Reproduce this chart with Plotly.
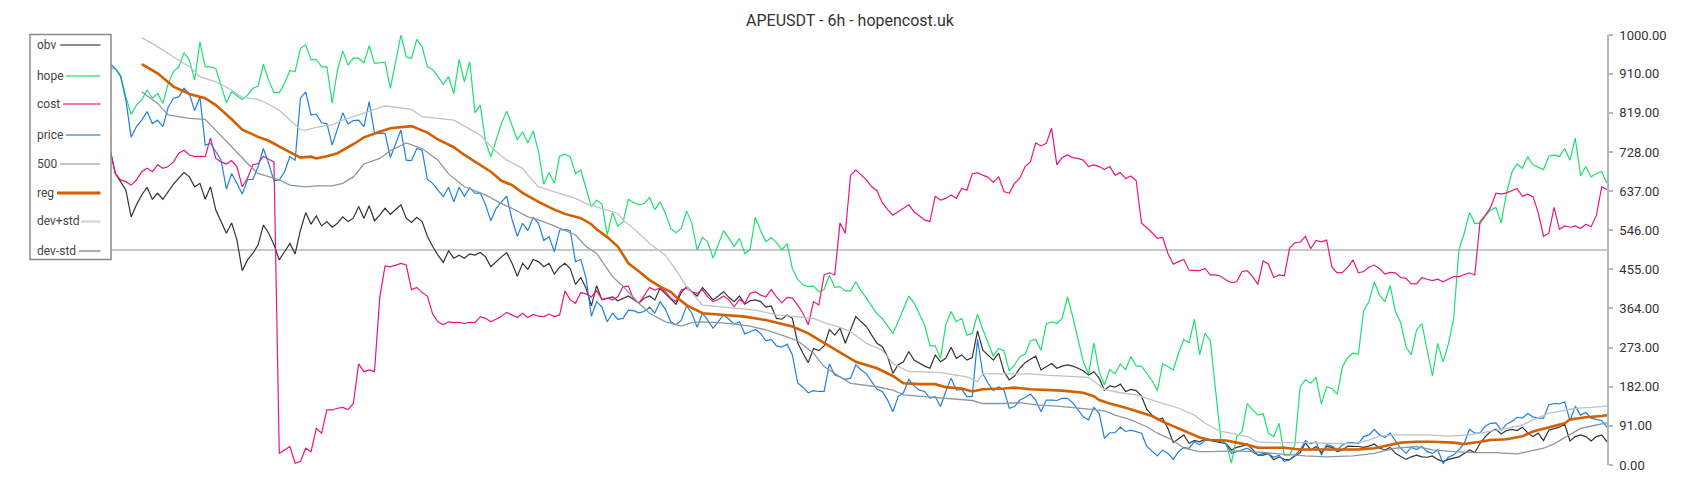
import plotly.graph_objects as go

TITLE = "APEUSDT - 6h - hopencost.uk"

obv = [736, 678, 659, 639, 577, 605, 628, 646, 618, 632, 618, 636, 653, 667, 680, 670, 647, 655, 618, 647,
       593, 566, 539, 563, 523, 452, 477, 492, 512, 558, 539, 512, 477, 496, 515, 491, 546, 587, 560, 579,
       556, 566, 553, 562, 577, 566,
       574, 601, 574, 603, 568, 581, 597, 583, 593, 605, 574, 564, 576, 566, 532, 508, 488, 471, 498, 481,
       488, 481, 491, 488, 494, 484, 461, 473, 484, 494, 469, 439, 469, 455, 478, 473, 461, 469, 444, 460,
       469, 457, 420, 436, 411, 370, 417,
       384, 388, 391, 382, 388, 393, 385, 377, 388, 393, 384, 411, 398, 385, 374, 401, 415, 403, 393, 413,
       398, 384, 393, 403, 390, 380, 393, 374, 382, 384, 380, 367, 370, 341, 339, 349, 341, 284, 260, 238,
       271, 266, 277, 315, 302,
       318, 283, 314, 345, 333, 322, 302, 283, 275, 252, 213, 233, 240, 264, 244, 236, 230, 225, 256, 240,
       248, 274, 248, 256, 244, 250, 312, 267, 256, 244, 260, 217, 198, 207, 225, 238, 246, 253, 221, 229,
       236, 225, 230, 233, 230, 225, 219, 209, 217, 202,
       174, 184, 181, 188, 171, 176, 173, 160, 129, 116, 105, 109, 85, 52, 62, 70, 50, 57, 54, 60,
       57, 54, 52, 50, 35, 41, 44, 49, 35, 23, 23, 27, 12, 19, 13, 12, 21, 29, 52, 35,
       43, 29, 43, 41, 31, 35,
       44, 44, 43, 41, 44, 49, 39, 35, 41, 27, 19, 13, 19, 23, 19, 18, 21, 13, 8, 13,
       16, 19, 27, 35, 29, 50, 66, 78, 83, 72, 80, 83, 80, 88, 75, 66, 74, 57, 81, 85,
       88, 95, 56, 66, 70, 66, 56, 66, 70, 54]

hope = [924, 922, 907, 856, 815, 837, 849, 872, 853, 864, 841, 887, 915, 926, 959, 942, 895, 984, 926, 926,
        922, 884, 842, 868, 858, 850, 860, 876, 881, 932, 895, 866, 866, 887, 917, 915, 969, 977, 942, 943,
        926, 926, 842, 918, 963, 930,
        946, 946, 935, 975, 934, 935, 937, 876, 938, 1000, 949, 946, 990, 973, 926, 920, 903, 885, 903, 863,
        943, 891, 938, 819, 837, 752, 717, 756, 794, 823, 791, 756, 775, 749, 777, 729, 653, 680, 655, 718,
        723, 717, 678, 686, 643, 601, 616,
        607, 535, 587, 556, 566, 618, 610, 605, 608, 622, 594, 612, 585, 550, 540, 550, 591, 562, 500, 529,
        519, 481, 514, 545, 527, 508, 527, 492, 501, 576, 545, 519, 529, 517, 500, 515, 457, 432, 419, 415,
        416, 403, 408, 442, 413,
        415, 405, 405, 426, 405, 388, 370, 351, 341, 323, 306, 333, 362, 393, 377, 353, 326, 277, 277, 248,
        326, 357, 333, 341, 302, 306, 351, 315, 284, 253, 271, 266, 219, 233, 252, 258, 289, 292, 267, 328,
        333, 329, 341, 391, 345, 291, 240, 212, 284, 217,
        186, 222, 212, 235, 222, 252, 230, 230, 213, 196, 173, 235, 229, 221, 260, 292, 284, 339, 256, 306,
        289, 181, 60, 49, 5, 66, 78, 143, 128, 116, 119, 74, 66, 97, 23, 23, 47, 182, 198, 190,
        204, 142, 182, 178, 165, 229,
        250, 260, 258, 359, 380, 426, 395, 380, 417, 357, 331, 275, 256, 314, 329, 267, 207, 283, 240, 281,
        339, 500, 539, 587, 562, 562, 579, 593, 599, 563, 632, 680, 700, 690, 717, 698, 692, 687, 718, 721,
        717, 736, 709, 760, 672, 694, 670, 678, 682, 655]

cost = [732, 678, 663, 659, 651, 663, 682, 690, 682, 698, 690, 694, 705, 725, 732, 721, 717, 718, 717, 760,
        713, 705, 700, 708, 694, 647, 667, 698, 701, 718, 711, 705, 27, 35, 43, 4, 8, 39, 31, 85,
        74, 128, 128, 132, 134, 129,
        143, 235, 217, 221, 217, 391, 463, 461, 465, 469, 465, 408, 413, 401, 393, 351, 333, 326, 333, 331,
        332, 329, 332, 331, 345, 341, 333, 339, 346, 355, 349, 343, 353, 343, 350, 346, 345, 351, 345, 349,
        405, 384, 376, 401, 398, 391, 405,
        385, 388, 384, 391, 415, 416, 385, 376, 395, 413, 407, 411, 403, 388, 380, 407, 411, 403, 399, 408,
        391, 380, 385, 393, 384, 368, 385, 376, 399, 403, 395, 391, 408, 391, 377, 390, 388, 372, 353, 326,
        380, 372, 442, 447, 442,
        563, 539, 674, 686, 674, 663, 647, 638, 610, 594, 581, 589, 597, 605, 589, 579, 570, 566, 625, 616,
        620, 628, 620, 643, 639, 677, 680, 674, 669, 657, 670, 636, 632, 655, 667, 694, 705, 749, 742, 748,
        783, 698, 715, 721, 715, 713, 709, 694, 698, 694,
        687, 694, 674, 680, 666, 672, 661, 563, 552, 540, 527, 529, 492, 467, 473, 478, 453, 453, 452, 457,
        442, 442, 439, 430, 424, 426, 450, 452, 438, 420, 475, 467, 436, 442, 440, 504, 517, 518, 532, 503,
        522, 519, 523, 460, 447, 448,
        460, 477, 447, 450, 460, 465, 457, 444, 448, 447, 436, 434, 421, 421, 436, 432, 429, 432, 426, 432,
        438, 438, 442, 447, 442, 566, 581, 599, 632, 630, 633, 638, 643, 625, 630, 624, 587, 532, 539, 599,
        548, 556, 553, 556, 550, 560, 554, 581, 647, 641]

price = [934, 922, 903, 849, 762, 787, 802, 822, 794, 802, 787, 832, 853, 856, 876, 863, 824, 856, 744, 748,
         729, 709, 642, 678, 655, 630, 664, 664, 694, 736, 701, 661, 663, 682, 717, 709, 853, 868, 814, 816,
         796, 794, 744, 779, 819, 793,
         801, 802, 787, 845, 773, 771, 771, 715, 749, 779, 709, 708, 736, 732, 664, 655, 639, 624, 646, 612,
         646, 625, 645, 632, 633, 605, 568, 597, 612, 625, 571, 532, 562, 545, 576, 562, 522, 531, 496, 546,
         548, 545, 473, 478, 434, 346, 380,
         367, 333, 353, 339, 341, 360, 359, 354, 357, 367, 353, 380, 362, 333, 326, 337, 370, 353, 320, 353,
         337, 318, 333, 349, 339, 328, 333, 305, 310, 315, 306, 289, 292, 277, 274, 281, 256, 191, 181, 168,
         173, 171, 171, 235, 209,
         205, 199, 202, 233, 221, 212, 194, 176, 171, 151, 124, 159, 168, 199, 184, 174, 171, 155, 159, 136,
         171, 202, 174, 176, 159, 159, 292, 212, 190, 173, 182, 174, 132, 136, 151, 157, 165, 151, 124, 151,
         151, 150, 155, 155, 145, 128, 112, 105, 134, 120,
         62, 75, 75, 88, 78, 81, 78, 74, 43, 31, 21, 35, 27, 13, 31, 41, 39, 54, 47, 57,
         57, 57, 54, 49, 27, 31, 35, 39, 31, 23, 27, 26, 18, 23, 8, 12, 23, 35, 57, 49,
         54, 23, 47, 44, 35, 47,
         52, 52, 50, 66, 70, 83, 70, 64, 74, 57, 39, 27, 41, 36, 43, 31, 27, 35, 4, 18,
         23, 35, 50, 83, 74, 75, 91, 97, 98, 81, 95, 101, 111, 109, 120, 112, 109, 109, 140, 143,
         142, 147, 103, 137, 116, 122, 109, 106, 103, 88]

level_500 = 500

reg_x = [6, 9, 12, 15, 18, 20, 23, 25, 28, 30, 33, 36, 38, 39, 41, 43, 46, 48, 51, 53,
         57, 60, 62, 65, 67, 69, 72, 74, 76, 78, 81, 84, 86, 89, 91, 92, 94, 96, 98, 100,
         102, 104, 106, 107, 109, 112, 116, 120, 124, 127, 129, 132, 135, 138, 141, 145, 148, 150, 153, 156,
         158, 161, 163, 165, 169, 171, 174, 177, 180, 184, 186, 187, 189, 192, 194, 197, 199, 202, 204, 206,
         208, 211, 213, 215, 217, 222, 225, 229, 232, 236, 239, 242, 244, 247, 250, 254, 256, 259, 261, 264,
         267, 269, 272, 275, 276, 279, 282, 283]
reg_y = [932, 911, 880, 863, 853, 837, 804, 780, 763, 754, 734, 715, 717, 713, 718, 725, 746, 762, 775, 783,
         788, 773, 757, 739, 721, 705, 682, 661, 651, 633, 612, 594, 584, 574, 560, 548, 530, 508, 469, 450,
         430, 415, 403, 391, 372, 353, 349, 345, 337, 328, 322, 306, 283, 262, 240, 225, 207, 190, 188, 188,
         181, 178, 171, 176, 178, 180, 176, 174, 173, 168, 160, 151, 143, 133, 126, 114, 101, 85, 74, 64,
         58, 57, 52, 47, 40, 40, 36, 36, 35, 36, 39, 47, 52, 54, 54, 52, 49, 54, 58, 60,
         67, 78, 88, 97, 106, 111, 114, 116]

dev_plus_x = [6, 9, 12, 15, 17, 20, 23, 25, 28, 30, 32, 34, 36, 37, 39, 42, 44, 47, 50, 52,
              54, 57, 59, 62, 65, 67, 70, 73, 75, 78, 79, 81, 84, 88, 90, 93, 96, 97, 100, 102,
              105, 107, 109, 112, 115, 119, 122, 126, 129, 133, 135, 138, 140, 143, 146, 148, 151, 153, 157, 160,
              162, 164, 165, 170, 174, 177, 181, 185, 186, 188, 191, 194, 197, 199, 202, 205, 207, 210, 212, 215,
              217, 220, 223, 227, 231, 235, 238, 240, 243, 249, 253, 257, 259, 262, 264, 267, 269, 272, 275, 277,
              280, 283]
dev_plus_y = [994, 973, 949, 926, 903, 891, 872, 855, 850, 839, 825, 802, 780, 779, 785, 791, 802, 814, 827, 835,
              832, 827, 810, 806, 802, 788, 767, 729, 709, 690, 674, 647, 636, 620, 608, 597, 585, 570, 539, 515,
              488, 453, 415, 372, 368, 364, 360, 349, 345, 341, 331, 320, 310, 283, 267, 236, 217, 217, 215, 209,
              205, 194, 212, 212, 212, 209, 207, 204, 195, 176, 168, 163, 151, 143, 132, 116, 97, 78, 74, 66,
              54, 52, 52, 52, 50, 50, 58, 67, 70, 70, 67, 70, 74, 80, 85, 93, 105, 120, 128, 132,
              134, 137]

dev_minus_x = [6, 9, 11, 15, 18, 20, 23, 26, 28, 32, 34, 37, 39, 42, 44, 46, 48, 51, 53, 56,
               59, 62, 64, 67, 71, 74, 76, 79, 81, 84, 88, 90, 92, 95, 97, 100, 102, 105, 108, 110,
               112, 115, 118, 121, 124, 127, 130, 133, 135, 138, 140, 145, 148, 150, 153, 157, 160, 163, 165, 169,
               172, 175, 179, 182, 186, 188, 190, 193, 196, 198, 201, 203, 206, 208, 211, 213, 216, 218, 221, 223,
               226, 230, 235, 239, 243, 247, 250, 254, 258, 262, 266, 268, 271, 273, 276, 278, 281, 283]
dev_minus_y = [868, 841, 814, 806, 804, 779, 740, 701, 678, 663, 651, 647, 649, 649, 655, 670, 700, 713, 731, 749,
               736, 709, 677, 647, 628, 608, 597, 577, 570, 556, 535, 508, 492, 438, 415, 376, 353, 333, 323, 331,
               333, 331, 328, 323, 314, 302, 289, 260, 229, 205, 190, 182, 174, 163, 160, 157, 153, 150, 143, 143,
               145, 140, 137, 134, 129, 126, 116, 105, 89, 74, 57, 39, 31, 31, 33, 33, 31, 29, 26, 23,
               21, 19, 21, 27, 39, 43, 35, 31, 29, 29, 26, 31, 39, 49, 70, 85, 93, 98]

tick_values = [0, 91, 182, 273, 364, 455, 546, 637, 728, 819, 910, 1000]
tick_labels = ["0.00", "91.00", "182.00", "273.00", "364.00", "455.00", "546.00",
               "637.00", "728.00", "819.00", "910.00", "1000.00"]

legend_names = ["obv", "hope", "cost", "price", "500", "reg", "dev+std", "dev-std"]

# ---------------- styling / layout ----------------
W, H = 1700, 500
L, R, T, B = 110, 1607, 35, 465
FONT = "Roboto, 'Noto Sans', Arial, sans-serif"

line_colors = {"obv": "#333333", "hope": "#1fe06e", "cost": "#e8177f", "price": "#1f80e0",
               "500": "#c8c8c8", "reg": "#d35f00", "dev+std": "#bcc3c9", "dev-std": "#8c98a1"}
line_widths = {"obv": 1.2, "hope": 1.2, "cost": 1.2, "price": 1.2,
               "500": 2, "reg": 2.6, "dev+std": 1.3, "dev-std": 1.3}
swatch_colors = {"obv": "#8c8c8c", "hope": "#7fe9aa", "cost": "#ee78b5", "price": "#7ab5ec",
                 "500": "#c8c8c8", "reg": "#d35f00", "dev+std": "#d0d5d8", "dev-std": "#a9b1b7"}

n = len(price)
idx = list(range(n))

fig = go.Figure()
fig.add_trace(go.Scatter(x=[0, n - 1], y=[level_500, level_500], mode="lines", name="500",
                         line=dict(color=line_colors["500"], width=line_widths["500"])))
series = [("obv", idx, obv), ("hope", idx, hope), ("cost", idx, cost), ("price", idx, price),
          ("reg", reg_x, reg_y), ("dev+std", dev_plus_x, dev_plus_y), ("dev-std", dev_minus_x, dev_minus_y)]
for name, xs, ys in series:
    fig.add_trace(go.Scatter(x=xs, y=ys, mode="lines", name=name,
                             line=dict(color=line_colors[name], width=line_widths[name])))


def px(xp):
    return (xp - L) / (R - L)


def py(yp):
    return (B - yp) / (B - T)


shapes = []
annotations = []
# legend box
shapes.append(dict(type="rect", xref="paper", yref="paper", x0=px(30), x1=px(111), y0=py(259.5), y1=py(34.5),
                   line=dict(color="#8a8a8a", width=1.5), fillcolor="white", layer="above"))
legend_row_y = [45, 76, 104, 135, 164, 193, 221.5, 251]
swatch_start = [60, 66, 63, 66, 60, 57, 81, 79]
for name, yy, sx in zip(legend_names, legend_row_y, swatch_start):
    annotations.append(dict(x=px(35), y=py(yy), xref="paper", yref="paper", text=name, showarrow=False,
                            xanchor="left", yanchor="middle", font=dict(family=FONT, size=12, color="#444444")))
    shapes.append(dict(type="line", xref="paper", yref="paper", x0=px(sx), x1=px(100.5), y0=py(yy), y1=py(yy),
                       line=dict(color=swatch_colors[name], width=3 if name == "reg" else 2.2), layer="above"))

fig.update_layout(
    width=W, height=H,
    margin=dict(l=L, r=W - R, t=T, b=H - B, pad=0),
    paper_bgcolor="white", plot_bgcolor="white",
    showlegend=False,
    title=dict(text=TITLE, x=0.5, xref="container", xanchor="center", y=1 - 20.5 / H, yref="container",
               yanchor="middle", font=dict(family=FONT, size=16, color="#333333")),
    xaxis=dict(range=[0, n - 1], visible=False, showgrid=False, zeroline=False),
    yaxis=dict(range=[0, 1000], side="right", showgrid=False, zeroline=False,
               showline=True, linecolor="#aeb8be", linewidth=1.5,
               ticks="outside", ticklen=4, tickcolor="#aeb8be", tickwidth=1.5,
               tickvals=tick_values, ticktext=tick_labels, ticklabelstandoff=4,
               tickfont=dict(family=FONT, size=13, color="#333333")),
    shapes=shapes, annotations=annotations,
    font=dict(family=FONT),
)

fig.write_html("out.html", config={"displayModeBar": False},
               post_script="document.body.style.margin='0';document.body.style.overflow='hidden';")
